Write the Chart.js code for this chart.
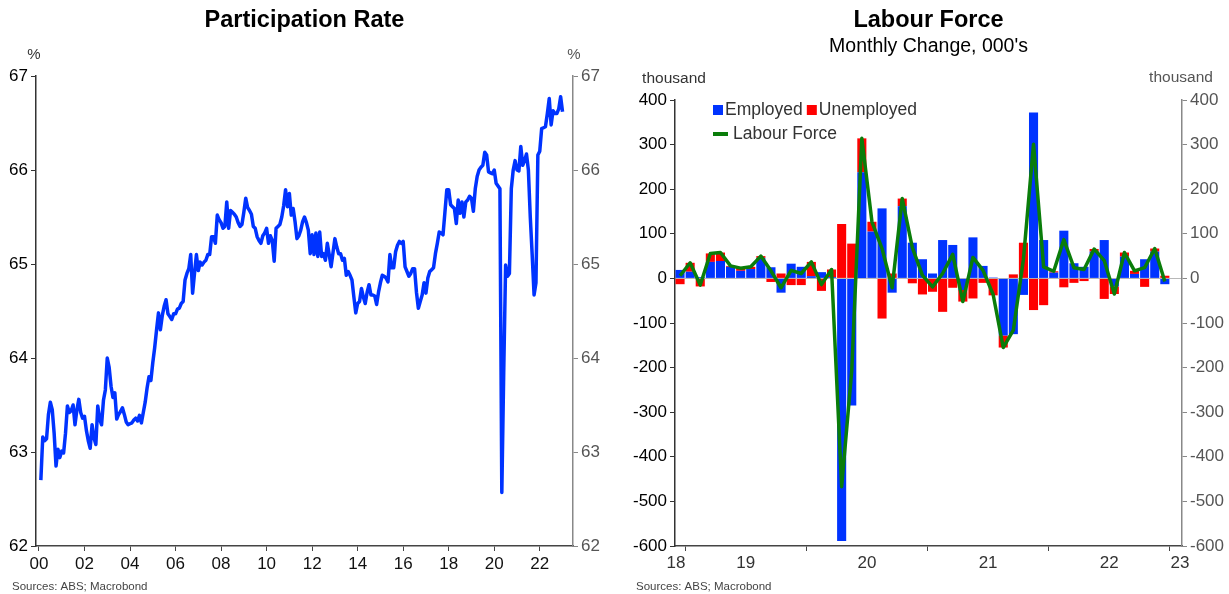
<!DOCTYPE html>
<html>
<head>
<meta charset="utf-8">
<title>Participation Rate / Labour Force</title>
<script src="https://cdn.jsdelivr.net/npm/chart.js@4.4.1/dist/chart.umd.min.js"></script>
<style>
  html, body { margin: 0; padding: 0; background: #fff; }
  .panel { position: absolute; top: 0; height: 594px; }
  #left { left: 0; width: 614px; }
  #right { left: 614px; width: 615px; }
</style>
</head>
<body>
<div class="panel" id="left"><canvas id="participationChart"></canvas></div>
<div class="panel" id="right"><canvas id="labourForceChart"></canvas></div>

<script>
// Participation rate, % - monthly from Jan 2000 to Dec 2022
const prStartYear = 2000;
const participationRate = [
    62.70, 63.16, 63.12, 63.14, 63.40, 63.53, 63.45, 63.20, 62.85, 63.03, 62.94, 63.01, // 2000
    62.99, 63.20, 63.49, 63.42, 63.44, 63.50, 63.29, 63.45, 63.56, 63.42, 63.36, 63.38, // 2001
    63.23, 63.12, 63.04, 63.29, 63.15, 63.08, 63.49, 63.35, 63.29, 63.55, 63.66, 64.00, // 2002
    63.90, 63.70, 63.58, 63.63, 63.35, 63.40, 63.43, 63.47, 63.40, 63.32, 63.29, 63.30, // 2003
    63.31, 63.34, 63.36, 63.33, 63.39, 63.31, 63.42, 63.53, 63.68, 63.80, 63.76, 63.95, // 2004
    64.11, 64.30, 64.48, 64.30, 64.45, 64.55, 64.62, 64.47, 64.44, 64.41, 64.47, 64.47, // 2005
    64.52, 64.53, 64.58, 64.60, 64.83, 64.90, 64.95, 65.10, 64.69, 64.90, 65.10, 64.93, // 2006
    65.02, 64.99, 65.02, 65.04, 65.10, 65.10, 65.29, 65.29, 65.22, 65.52, 65.47, 65.44, // 2007
    65.38, 65.40, 65.66, 65.38, 65.57, 65.55, 65.53, 65.50, 65.44, 65.40, 65.42, 65.55, // 2008
    65.70, 65.60, 65.57, 65.53, 65.40, 65.38, 65.29, 65.25, 65.22, 65.30, 65.33, 65.38, // 2009
    65.22, 65.30, 65.25, 65.03, 65.38, 65.40, 65.42, 65.50, 65.62, 65.79, 65.61, 65.75, // 2010
    65.52, 65.59, 65.45, 65.27, 65.30, 65.36, 65.45, 65.50, 65.44, 65.36, 65.11, 65.31, // 2011
    65.10, 65.33, 65.08, 65.34, 65.08, 65.11, 65.04, 65.22, 65.10, 64.97, 65.12, 65.27, // 2012
    65.18, 65.11, 65.11, 65.04, 65.06, 64.88, 64.92, 64.88, 64.83, 64.65, 64.48, 64.58, // 2013
    64.60, 64.74, 64.65, 64.58, 64.70, 64.78, 64.67, 64.67, 64.66, 64.57, 64.70, 64.80, // 2014
    64.88, 64.87, 64.85, 64.81, 65.10, 64.96, 64.96, 65.13, 65.20, 65.24, 65.22, 65.24, // 2015
    64.97, 64.92, 64.87, 64.90, 64.95, 64.95, 64.70, 64.53, 64.60, 64.67, 64.80, 64.69, // 2016
    64.85, 64.92, 64.94, 64.96, 65.11, 65.22, 65.34, 65.33, 65.31, 65.55, 65.79, 65.79, // 2017
    65.63, 65.61, 65.59, 65.43, 65.68, 65.54, 65.66, 65.50, 65.66, 65.68, 65.72, 65.70, // 2018
    65.56, 65.80, 65.93, 66.00, 66.03, 66.05, 66.19, 66.16, 65.98, 65.97, 65.96, 66.00, // 2019
    65.86, 65.83, 65.80, 62.57, 63.85, 64.99, 64.87, 64.90, 65.80, 66.00, 66.10, 66.00, // 2020
    65.99, 66.25, 66.05, 66.10, 66.17, 66.00, 65.50, 65.10, 64.67, 64.80, 66.16, 66.20, // 2021
    66.44, 66.45, 66.46, 66.60, 66.76, 66.48, 66.63, 66.60, 66.60, 66.65, 66.78, 66.62  // 2022
];
const prYearTicks = [2000, 2002, 2004, 2006, 2008, 2010, 2012, 2014, 2016, 2018, 2020, 2022];
const prAxisMin = 62;
const prAxisMax = 67;

// Labour force, monthly change in thousands - Dec 2018 to Dec 2022
const employedChange = [
    19,
    15, 3, 37, 39, 26, 17, 21, 46, 25, -32, 33, 26,
    5, 14, 3, -589, -285, 238, 105, 157, -32, 162, 80, 43,
    11, 86, 75, -26, 92, 28, 2, -128, -125, -37, 372, 86,
    13, 107, 34, 26, 60, 86, -18, 49, 10, 43, 60, -13
];
const unemployedChange = [
    -13,
    20, -18, 19, 19, 2, 6, 5, 4, -8, 11, -15, -15,
    32, -28, 17, 122, 78, 76, 22, -90, 11, 17, -11, -36,
    -30, -75, -21, -26, -45, -10, -38, -27, 9, 80, -71, -60,
    3, -20, -10, -6, 6, -46, -17, 9, 7, -19, 7, 6
];
const labourForceChange = [
    6,
    35, -15, 56, 58, 28, 23, 26, 50, 17, -21, 18, 11,
    37, -14, 20, -467, -207, 314, 127, 67, -21, 179, 69, 7,
    -19, 11, 54, -52, 47, 18, -36, -155, -116, 43, 301, 26,
    16, 87, 24, 20, 66, 40, -35, 58, 17, 24, 67, -7
];
// x positions are months counted from the start of Dec 2018
const lfYearLabels = ['18', '19', '20', '21', '22', '23'];
const lfYearLabelAt = [0.1, 7, 19, 31, 43, 50];
const lfYearStartAt = [1, 13, 25, 37, 49];
const lfAxisMin = -600;
const lfAxisMax = 400;

const FONT = "'Liberation Sans', Arial, Helvetica, sans-serif";
const BLUE = '#0033ff';
const RED = '#ff0000';
const GREEN = '#0a7d0a';

Chart.defaults.font.family = FONT;
Chart.defaults.animation = false;

// Free text (titles, units, sources) drawn on the canvas
const chartText = {
    id: 'chartText',
    afterDraw(chart, args, opts) {
        const ctx = chart.ctx;
        (opts.items || []).forEach(item => {
            ctx.save();
            ctx.font = item.font;
            ctx.fillStyle = item.color || '#000';
            ctx.textAlign = item.align || 'center';
            ctx.textBaseline = 'middle';
            const x = typeof item.x === 'function' ? item.x(chart) : item.x;
            ctx.fillText(item.text, x, item.y);
            ctx.restore();
        });
    }
};

// Legend drawn inside the plot, two rows
const insideLegend = {
    id: 'insideLegend',
    afterDatasetsDraw(chart, args, opts) {
        const { ctx, chartArea } = chart;
        ctx.save();
        ctx.font = opts.font;
        ctx.textBaseline = 'middle';
        ctx.textAlign = 'left';
        opts.rows.forEach((row, r) => {
            let x = chartArea.left + opts.offsetX;
            const y = chartArea.top + opts.offsetY + r * opts.rowHeight;
            row.forEach(label => {
                const ds = chart.data.datasets.find(d => d.label === label);
                if (ds.type === 'line') {
                    ctx.strokeStyle = ds.borderColor;
                    ctx.lineWidth = 4;
                    ctx.beginPath();
                    ctx.moveTo(x, y);
                    ctx.lineTo(x + 15, y);
                    ctx.stroke();
                    x += 20;
                } else {
                    ctx.fillStyle = ds.backgroundColor;
                    ctx.fillRect(x, y - 5, 10, 10);
                    x += 12;
                }
                ctx.fillStyle = opts.color;
                ctx.fillText(label, x, y);
                x += ctx.measureText(label).width + 4;
            });
        });
        ctx.restore();
    }
};

function yAxis(position, min, max, step, width, color) {
    return {
        type: 'linear',
        position: position,
        min: min,
        max: max,
        afterFit: scale => { scale.width = width; },
        ticks: { stepSize: step, color: color, font: { size: 17 }, padding: 3 },
        grid: { drawOnChartArea: false, tickLength: 5, color: color === '#000' ? '#333' : '#888' },
        border: { color: color === '#000' ? '#333' : '#888', width: 1.5 }
    };
}

// Left panel: participation rate
function renderParticipationChart(canvas) {
    if (!canvas) {
        console.error('Canvas for the participation chart not found.');
        return;
    }

    const points = participationRate.map((v, i) => ({ x: prStartYear + (i + 1) / 12, y: v }));

    new Chart(canvas.getContext('2d'), {
        type: 'line',
        data: {
            datasets: [{
                label: 'Participation Rate',
                data: points,
                borderColor: BLUE,
                borderWidth: 3.5,
                borderJoinStyle: 'round',
                pointRadius: 0,
                tension: 0
            }]
        },
        options: {
            responsive: true,
            maintainAspectRatio: false,
            events: [],
            layout: { padding: { top: 76, bottom: 18, left: 0, right: 0 } },
            plugins: {
                legend: { display: false },
                tooltip: { enabled: false },
                chartText: {
                    items: [
                        { text: 'Participation Rate', x: c => (c.chartArea.left + c.chartArea.right) / 2, y: 21, font: 'bold 23.5px ' + FONT },
                        { text: '%', x: 34, y: 55, font: '15px ' + FONT, color: '#333' },
                        { text: '%', x: 574, y: 55, font: '15px ' + FONT, color: '#555' },
                        { text: 'Sources: ABS; Macrobond', x: 12, y: 587, align: 'left', font: '11.5px ' + FONT, color: '#444' }
                    ]
                }
            },
            scales: {
                x: {
                    type: 'linear',
                    min: 1999.87,
                    max: 2023.46,
                    afterBuildTicks: scale => { scale.ticks = prYearTicks.map(v => ({ value: v })); },
                    afterFit: scale => { scale.height = 30; },
                    ticks: {
                        callback: v => String(v).slice(2),
                        color: '#111',
                        font: { size: 17 },
                        padding: 3,
                        autoSkip: false,
                        maxRotation: 0
                    },
                    grid: { drawOnChartArea: false, tickLength: 5, color: '#444' },
                    border: { color: '#444', width: 1.5 }
                },
                y: yAxis('left', prAxisMin, prAxisMax, 1, 36, '#000'),
                y2: yAxis('right', prAxisMin, prAxisMax, 1, 41, '#555')
            }
        },
        plugins: [chartText]
    });
}

// Right panel: monthly change in labour force
function renderLabourForceChart(canvas) {
    if (!canvas) {
        console.error('Canvas for the labour force chart not found.');
        return;
    }

    const at = arr => arr.map((v, i) => ({ x: i + 0.5, y: v }));

    const yLeft = yAxis('left', lfAxisMin, lfAxisMax, 100, 61, '#000');
    yLeft.grid.drawOnChartArea = true;
    yLeft.grid.color = ctx => (ctx.tick && ctx.tick.value === 0 ? '#b8b8b8' : 'rgba(0,0,0,0)');
    yLeft.grid.tickColor = '#333';

    new Chart(canvas.getContext('2d'), {
        type: 'bar',
        data: {
            datasets: [
                {
                    label: 'Employed',
                    data: at(employedChange),
                    backgroundColor: BLUE,
                    stack: 'parts',
                    order: 1,
                    barPercentage: 0.9,
                    categoryPercentage: 1
                },
                {
                    label: 'Unemployed',
                    data: at(unemployedChange),
                    backgroundColor: RED,
                    stack: 'parts',
                    order: 1,
                    barPercentage: 0.9,
                    categoryPercentage: 1
                },
                {
                    type: 'line',
                    label: 'Labour Force',
                    data: at(labourForceChange),
                    borderColor: GREEN,
                    backgroundColor: GREEN,
                    borderWidth: 3.5,
                    borderJoinStyle: 'round',
                    pointRadius: 0,
                    tension: 0,
                    stack: 'lf',
                    order: 0
                }
            ]
        },
        options: {
            responsive: true,
            maintainAspectRatio: false,
            events: [],
            layout: { padding: { top: 100, bottom: 18, left: 0, right: 0 } },
            plugins: {
                legend: { display: false },
                tooltip: { enabled: false },
                insideLegend: {
                    rows: [['Employed', 'Unemployed'], ['Labour Force']],
                    offsetX: 38,
                    offsetY: 10,
                    rowHeight: 24,
                    font: '17.5px ' + FONT,
                    color: '#333'
                },
                chartText: {
                    items: [
                        { text: 'Labour Force', x: c => (c.chartArea.left + c.chartArea.right) / 2, y: 21, font: 'bold 23.5px ' + FONT },
                        { text: "Monthly Change, 000's", x: c => (c.chartArea.left + c.chartArea.right) / 2, y: 47, font: '19.5px ' + FONT },
                        { text: 'thousand', x: 60, y: 79, font: '15.5px ' + FONT, color: '#333' },
                        { text: 'thousand', x: 567, y: 78, font: '15.5px ' + FONT, color: '#555' },
                        { text: 'Sources: ABS; Macrobond', x: 22, y: 587, align: 'left', font: '11.5px ' + FONT, color: '#444' }
                    ]
                }
            },
            scales: {
                // tick marks at the start of each year
                xt: {
                    type: 'linear',
                    position: 'bottom',
                    weight: 0,
                    min: 0,
                    max: 50.2,
                    offset: false,
                    afterBuildTicks: scale => { scale.ticks = lfYearStartAt.map(v => ({ value: v })); },
                    ticks: { display: false },
                    grid: { drawOnChartArea: false, tickLength: 5, color: '#444', offset: false },
                    border: { color: '#444', width: 1.5 }
                },
                // year labels centred in each year
                x: {
                    type: 'linear',
                    position: 'bottom',
                    weight: 1,
                    min: 0,
                    max: 50.2,
                    offset: false,
                    afterBuildTicks: scale => { scale.ticks = lfYearLabelAt.map(v => ({ value: v })); },
                    afterFit: scale => { scale.height = 25; },
                    ticks: {
                        callback: (v, i) => lfYearLabels[i],
                        color: '#333',
                        font: { size: 17 },
                        padding: 2,
                        autoSkip: false,
                        maxRotation: 0
                    },
                    grid: { display: false, drawTicks: false, offset: false },
                    border: { display: false }
                },
                y: yLeft,
                y2: yAxis('right', lfAxisMin, lfAxisMax, 100, 47, '#555')
            }
        },
        plugins: [chartText, insideLegend]
    });
}

window.addEventListener('DOMContentLoaded', () => {
    renderParticipationChart(document.getElementById('participationChart'));
    renderLabourForceChart(document.getElementById('labourForceChart'));
});
</script>
</body>
</html>
